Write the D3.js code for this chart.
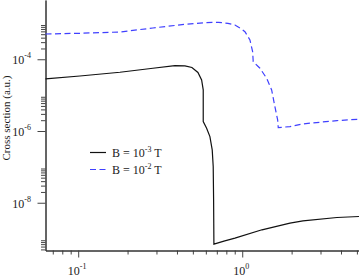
<!DOCTYPE html>
<meta charset="utf-8">
<script src="https://d3js.org/d3.v7.min.js"></script>
<style>
  body { margin: 0; background: #fff; }
  text { font-family: "Liberation Serif", "Times New Roman", serif; fill: #1a1a1a; }
</style>
<div id="my_dataviz"></div>
<script>
// curve for B = 1e-3 T (solid black)
var energy_b3 = [0.0632, 0.1024, 0.1796, 0.2854, 0.3887, 0.4473, 0.4935, 0.5370, 0.5655, 0.5784, 0.5784,
  0.5784, 0.6066, 0.6353, 0.6562, 0.6654, 0.6691, 0.6719, 0.7733, 0.9026, 1.319, 1.954, 2.345, 3.779, 5.148];
var cs_b3 = [2.83e-5, 3.42e-5, 4.34e-5, 5.62e-5, 6.63e-5, 6.51e-5, 5.91e-5, 4.29e-5, 2.65e-5, 1.40e-5, 7.35e-6,
  1.83e-6, 1.20e-6, 6.98e-7, 2.98e-7, 1.02e-7, 1.20e-8, 7.03e-10, 8.52e-10, 1.03e-9, 1.76e-9, 2.70e-9, 3.13e-9, 3.87e-9, 4.13e-9];

// curve for B = 1e-2 T (dashed blue)
var energy_b2 = [0.0632, 0.1024, 0.1796, 0.2854, 0.4473, 0.5923, 0.7138, 0.8181, 0.9026, 0.9819, 1.0386, 1.1142,
  1.157, 1.167, 1.282, 1.409, 1.511, 1.582, 1.644, 1.658, 1.954, 2.345, 3.779, 5.148];
var cs_b2 = [5.07e-4, 5.30e-4, 5.76e-4, 7.44e-4, 9.44e-4, 1.046e-3, 1.073e-3, 1.006e-3, 9.02e-4, 7.21e-4, 5.87e-4, 3.45e-4,
  1.63e-4, 8.57e-5, 5.62e-5, 2.96e-5, 1.40e-5, 4.78e-6, 2.04e-6, 1.24e-6, 1.33e-6, 1.58e-6, 1.95e-6, 2.13e-6];

var legend_exp = ["-3", "-2"];
var y_major = [1e-4, 1e-6, 1e-8];
var y_major_exp = ["-4", "-6", "-8"];
var y_minor_decades = [1e-10, 1e-8, 1e-6, 1e-4];
var x_major = [0.1, 1];
var x_major_exp = ["-1", "0"];
var x_minor_decades = [0.01, 0.1, 1];

var width = 359, height = 279;
var plotLeft = 45.5, plotBottom = 250.5, plotRight = 359, plotTop = 0;

var svg = d3.select("#my_dataviz").append("svg")
  .attr("width", width).attr("height", height);

var x = d3.scaleLog().domain([0.0632, 5.15]).range([plotLeft, plotRight]);
var y = d3.scaleLog().domain([4.66e-10, 4.49e-3]).range([plotBottom, plotTop]);

// minor ticks: 2..9 in each listed decade
var xMinor = [];
x_minor_decades.forEach(function(d) { for (var k = 2; k <= 9; k++) xMinor.push(k * d); });
xMinor = xMinor.filter(function(v) { return v >= x.domain()[0] && v <= x.domain()[1]; });
var yMinor = [];
y_minor_decades.forEach(function(d) { for (var k = 2; k <= 9; k++) yMinor.push(k * d); });
yMinor = yMinor.filter(function(v) { return v >= y.domain()[0] && v <= y.domain()[1]; });

function styleAxis(g) {
  g.select(".domain").attr("stroke", "#333");
  g.selectAll(".tick line").attr("stroke", "#444");
}

// x axis
svg.append("g").attr("transform", "translate(0," + plotBottom + ")")
  .call(d3.axisBottom(x).tickValues(xMinor).tickSize(4).tickSizeOuter(0).tickFormat(""))
  .call(styleAxis);
svg.append("g").attr("transform", "translate(0," + plotBottom + ")")
  .call(d3.axisBottom(x).tickValues(x_major).tickSize(7).tickSizeOuter(0).tickFormat(""))
  .call(styleAxis);

// y axis
svg.append("g").attr("transform", "translate(" + plotLeft + ",0)")
  .call(d3.axisLeft(y).tickValues(yMinor).tickSize(4.5).tickSizeOuter(0).tickFormat(""))
  .call(styleAxis);
svg.append("g").attr("transform", "translate(" + plotLeft + ",0)")
  .call(d3.axisLeft(y).tickValues(y_major).tickSize(8).tickSizeOuter(0).tickFormat(""))
  .call(styleAxis);

// tick labels 10^n
x_major.forEach(function(v, i) {
  var t = svg.append("text").attr("x", x(v) - 1).attr("y", 275)
    .attr("text-anchor", "middle").style("font-size", "12px");
  t.append("tspan").text("10");
  t.append("tspan").attr("dy", -6).style("font-size", "8px").text(x_major_exp[i]);
});
y_major.forEach(function(v, i) {
  var t = svg.append("text").attr("x", 31).attr("y", y(v) + 5)
    .attr("text-anchor", "end").style("font-size", "12px");
  t.append("tspan").text("10");
  t.append("tspan").attr("dy", -6).style("font-size", "8px").text(y_major_exp[i]);
});

// axis title
svg.append("text")
  .attr("transform", "translate(9.5,118) rotate(-90)")
  .attr("text-anchor", "middle").style("font-size", "11px")
  .text("Cross section (a.u.)");

var line = d3.line().x(function(d) { return x(d[0]); }).y(function(d) { return y(d[1]); });

svg.append("path")
  .datum(d3.zip(energy_b3, cs_b3))
  .attr("d", line).attr("fill", "none")
  .attr("stroke", "#111").attr("stroke-width", 1.2);

svg.append("path")
  .datum(d3.zip(energy_b2, cs_b2))
  .attr("d", line).attr("fill", "none")
  .attr("stroke", "#4040ff").attr("stroke-width", 1.2)
  .attr("stroke-dasharray", "6,3.5");

// legend
var legendStyles = [{ color: "#111", dash: null }, { color: "#4040ff", dash: "6,3.5" }];
legend_exp.forEach(function(e, i) {
  var ly = 152.5 + i * 17;
  svg.append("line").attr("x1", 90).attr("x2", 106).attr("y1", ly).attr("y2", ly)
    .attr("stroke", legendStyles[i].color).attr("stroke-width", 1.2)
    .attr("stroke-dasharray", legendStyles[i].dash);
  var t = svg.append("text").attr("x", 112).attr("y", ly + 4.5).style("font-size", "12px");
  t.append("tspan").text("B = 10");
  t.append("tspan").attr("dy", -5.5).style("font-size", "8px").text(e);
  t.append("tspan").attr("dy", 5.5).text(" T");
});
</script>
